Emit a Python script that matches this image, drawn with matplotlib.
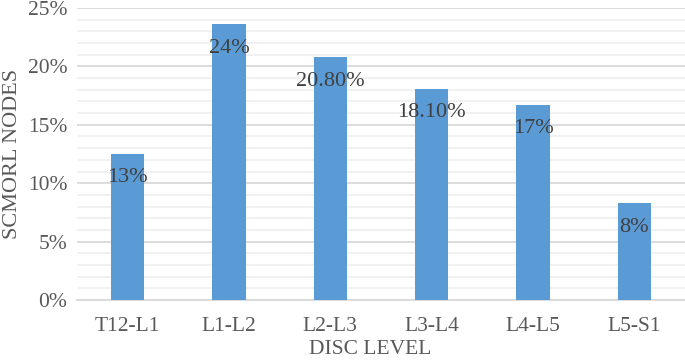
import numpy as np
import matplotlib.pyplot as plt
from matplotlib.ticker import MultipleLocator, PercentFormatter

# disc levels and share of schmorl nodes (%)
levels = ['T12-L1', 'L1-L2', 'L2-L3', 'L3-L4', 'L4-L5', 'L5-S1']
values = [12.5, 23.6, 20.8, 18.1, 16.7, 8.3]
labels = ['13%', '24%', '20.80%', '18.10%', '17%', '8%']

plt.rcParams['font.family'] = ['Liberation Serif', 'DejaVu Serif']

fig = plt.figure(figsize=(6.85, 3.6), dpi=100)
ax = fig.add_axes([77/685, 60/360, 608/685, 292/360])

x = np.arange(len(levels))
bars = ax.bar(x, values, width=0.33, color='#5B9BD5', zorder=3)

for b, lab in zip(bars, labels):
    ax.annotate(lab, (b.get_x() + b.get_width()/2, b.get_height()),
                xytext=(0, -24), textcoords='offset pixels',
                ha='center', va='center', fontsize=16, color='#404040',
                zorder=4)

ax.set_xlim(-0.5, len(levels) - 0.5)
ax.set_ylim(0, 25)
ax.yaxis.set_major_locator(MultipleLocator(5))
ax.yaxis.set_minor_locator(MultipleLocator(1))
ax.yaxis.set_major_formatter(PercentFormatter(decimals=0))
ax.grid(axis='y', which='major', color='#d9d9d9', lw=1.3, zorder=0)
ax.grid(axis='y', which='minor', color='#efefef', lw=1.2, zorder=0)

ax.set_xticks(x)
ax.set_xticklabels(levels)
ax.tick_params(axis='both', which='both', length=0, labelsize=15.5,
               labelcolor='#595959')
ax.tick_params(axis='x', pad=12)
ax.tick_params(axis='y', pad=7)

for s in ['top', 'right', 'left']:
    ax.spines[s].set_visible(False)
ax.spines['bottom'].set_color('#d9d9d9')
ax.spines['bottom'].set_linewidth(1.3)

ax.set_xlabel('DISC LEVEL', fontsize=15.5, color='#595959')
ax.xaxis.set_label_coords(0.482, -0.138)
ax.xaxis.label.set_va('top')
ax.set_ylabel('SCMORL NODES', fontsize=16, color='#595959', labelpad=4)

fig.savefig('out.png', dpi=100)
